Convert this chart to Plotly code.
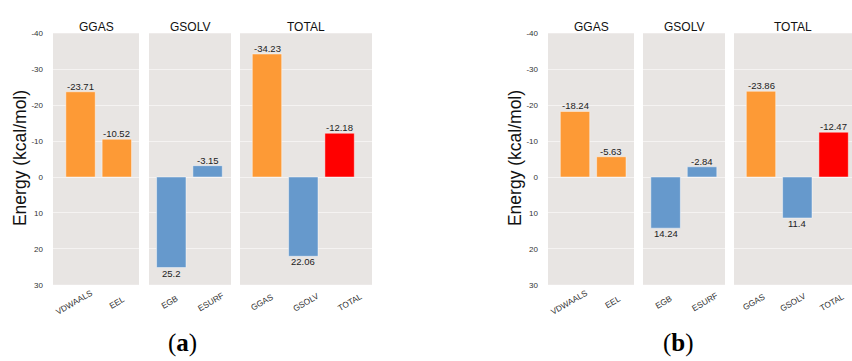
import plotly.graph_objects as go

# ---------------- data ----------------
cats_ggas = ["VDWAALS", "EEL"]
cats_gsolv = ["EGB", "ESURF"]
cats_total = ["GGAS", "GSOLV", "TOTAL"]

a_ggas = [-23.71, -10.52]
a_gsolv = [25.2, -3.15]
a_total = [-34.23, 22.06, -12.18]

b_ggas = [-18.24, -5.63]
b_gsolv = [14.24, -2.84]
b_total = [-23.86, 11.4, -12.47]

panel_titles = ["GGAS", "GSOLV", "TOTAL"]
y_tickvals = [-40, -30, -20, -10, 0, 10, 20, 30]
y_ticktext = ["-40", "-30", "-20", "-10", "0", "10", "20", "30"]
y_title = "Energy (kcal/mol)"
fig_labels = ["(<b>a</b>)", "(<b>b</b>)"]

ORANGE = "#FD9A36"
BLUE = "#6699CC"
RED = "#FF0000"
col_ggas = [ORANGE, ORANGE]
col_gsolv = [BLUE, BLUE]
col_total = [ORANGE, BLUE, RED]

# ---------------- layout geometry ----------------
W, H = 852, 361
def fx(p):
    return p / W
def fy(p):
    return 1 - p / H

panel_px = [(53, 139), (149, 231), (240, 372), (548, 634), (643, 725), (734, 852)]
x_ranges = [(-0.758, 1.61), (-0.614, 1.645), (-0.744, 2.893),
            (-0.744, 1.625), (-0.62, 1.63), (-0.744, 2.507)]
y_dom = [fy(288), fy(30)]

panels = [
    (cats_ggas, a_ggas, col_ggas), (cats_gsolv, a_gsolv, col_gsolv), (cats_total, a_total, col_total),
    (cats_ggas, b_ggas, col_ggas), (cats_gsolv, b_gsolv, col_gsolv), (cats_total, b_total, col_total),
]

fig = go.Figure()
annotations = []
FONT = "Liberation Sans, Arial, sans-serif"

for k, (cats, vals, cols) in enumerate(panels, start=1):
    sfx = "" if k == 1 else str(k)
    fig.add_trace(go.Bar(
        x=cats, y=vals,
        marker=dict(color=cols, line=dict(color="rgba(255,255,255,0.45)", width=1)),
        width=0.81,
        xaxis="x" + sfx, yaxis="y" + sfx,
        showlegend=False,
        hoverinfo="skip",
    ))
    x0, x1 = panel_px[k - 1]
    fig.update_layout(**{
        "xaxis" + sfx: dict(
            domain=[fx(x0), fx(x1)], range=list(x_ranges[k - 1]), type="category",
            showticklabels=False, showgrid=False, zeroline=False, showline=False,
            anchor="y" + sfx, fixedrange=True,
        ),
        "yaxis" + sfx: dict(
            domain=y_dom, range=[30, -40], anchor="x" + sfx,
            tickvals=y_tickvals, ticktext=y_ticktext,
            showticklabels=(k in (1, 4)), ticks="", ticklabelstandoff=9,
            tickfont=dict(family=FONT, size=8, color="#333"),
            showgrid=True, gridcolor="rgba(255,255,255,0.55)", gridwidth=1,
            zeroline=False, showline=False, fixedrange=True,
        ),
    })
    # value labels at bar ends
    for c, v in zip(cats, vals):
        annotations.append(dict(
            text=str(v), xref="x" + sfx, x=c, yref="y" + sfx, y=v,
            xanchor="center", yanchor=("bottom" if v < 0 else "top"),
            yshift=(-1 if v < 0 else 1), borderpad=0,
            showarrow=False, font=dict(family=FONT, size=9.5, color="#222"),
        ))
    # panel title
    annotations.append(dict(
        text=panel_titles[(k - 1) % 3], xref="x" + sfx + " domain", x=0.5,
        yref="paper", y=fy(24), xanchor="center", yanchor="middle",
        showarrow=False, font=dict(family=FONT, size=12, color="#111"),
    ))
    # rotated category labels
    n = len(cats)
    for i, c in enumerate(cats):
        annotations.append(dict(
            text=c, xref="x" + sfx + " domain", x=(i + 0.5) / n,
            yref="paper", y=fy(306), xanchor="center", yanchor="middle",
            textangle=-30, showarrow=False,
            font=dict(family=FONT, size=8.3, color="#333"),
        ))

# y-axis titles
for xc in (20, 515):
    annotations.append(dict(
        text=y_title, xref="paper", x=fx(xc), yref="paper", y=fy(158),
        xanchor="center", yanchor="middle", textangle=-90, showarrow=False,
        font=dict(family=FONT, size=17.5, color="#111"),
    ))

# figure labels
for lab, xc in zip(fig_labels, (182.5, 678.3)):
    annotations.append(dict(
        text=lab, xref="paper", x=fx(xc), yref="paper", y=fy(348),
        xanchor="center", yanchor="middle", showarrow=False,
        font=dict(family="Liberation Serif, DejaVu Serif, serif", size=25, color="#000"),
    ))

fig.update_layout(
    width=W, height=H,
    margin=dict(l=0, r=0, t=0, b=0),
    paper_bgcolor="white",
    plot_bgcolor="#E8E5E3",
    annotations=annotations,
    bargap=0.19,
)

fig.write_html("out.html")
